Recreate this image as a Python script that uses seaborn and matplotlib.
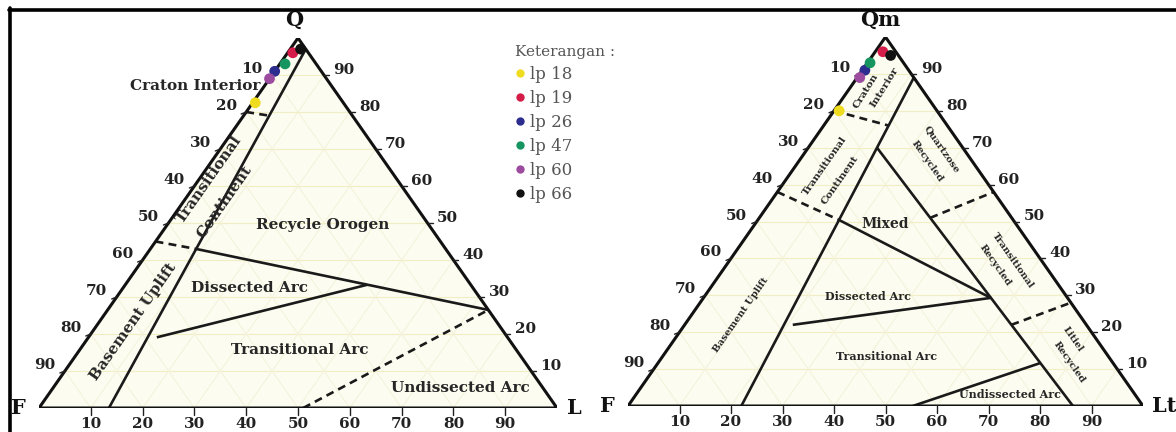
import numpy as np
import pandas as pd
import matplotlib
matplotlib.use("Agg")
import matplotlib.pyplot as plt
from matplotlib.lines import Line2D
from matplotlib.patches import Polygon
import seaborn as sns

sns.set_theme(style="white")
plt.rcParams["font.family"] = ["DejaVu Serif"]

# ---- samples ----
samples = ["lp 18", "lp 19", "lp 26", "lp 47", "lp 60", "lp 66"]
sample_colors = ["#f0dc1e", "#d41c48", "#2c2d8e", "#179560", "#9b4c9f", "#111111"]

# QFL composition (%)
qfl_Q = [82.5, 96.0, 91.0, 93.0, 89.0, 97.0]
qfl_F = [17.0, 3.0, 9.0, 6.0, 11.0, 1.0]
qfl_L = [0.5, 1.0, 0.0, 1.0, 0.0, 2.0]

# QmFLt composition (%)
qmflt_Qm = [80.0, 96.0, 91.0, 93.0, 89.0, 95.0]
qmflt_F = [19.0, 2.5, 8.5, 6.5, 10.5, 1.5]
qmflt_Lt = [1.0, 1.5, 0.5, 0.5, 0.5, 3.5]

tick_values = [10, 20, 30, 40, 50, 60, 70, 80, 90]

# provenance field boundaries, each point as (top, left, right) in %
qfl_solid = [
    [(97, 0, 3), (0, 86.5, 13.5)],
    [(43, 48.2, 8.8), (26.5, 0, 73.5)],
    [(33.3, 20.0, 46.7), (19.1, 67.7, 13.2)],
]
qfl_dashed = [
    [(80, 20, 0), (79, 16.0, 5.0)],
    [(45, 55, 0), (43, 48.2, 8.8)],
    [(0, 49, 51), (26.5, 0, 73.5)],
]
qmflt_solid = [
    [(89, 0, 11), (0, 78, 22)],
    [(70, 16.65, 13.35), (0, 13.6, 86.4)],
    [(50.4, 33.8, 15.8), (29.3, 14.9, 55.8)],
    [(29.3, 14.9, 55.8), (22, 57, 21)],
    [(11.65, 14.1, 74.25), (0, 44.7, 55.3)],
]
qmflt_dashed = [
    [(80, 20, 0), (76, 11.4, 12.6)],
    [(58, 42, 0), (50.4, 33.8, 15.8)],
    [(51, 15.8, 33.2), (58, 0, 42)],
    [(22, 14.56, 63.44), (28, 0, 72)],
]

W, H, DPI = 1176, 432, 100
fig = plt.figure(figsize=(W / DPI, H / DPI), dpi=DPI)
fig.patch.set_facecolor("white")


def tern(top, left, right):
    top, left, right = (np.asarray(v, dtype=float) for v in (top, left, right))
    s = top + left + right
    return right / s + top / s / 2.0, top / s


def make_axes(x0, ybase, width, height):
    ax = fig.add_axes([x0 / W, (H - ybase) / H, width / W, height / H])
    ax.set_xlim(0, 1)
    ax.set_ylim(0, 1)
    ax.axis("off")
    ax.patch.set_alpha(0)
    return ax


def draw_diagram(ax, solid, dashed, top_lbl, left_lbl, right_lbl, top_off):
    tri = np.array([[0, 0], [1, 0], [0.5, 1]])
    ax.add_patch(Polygon(tri, closed=True, facecolor="#fcfcf0", edgecolor="none", zorder=0))
    # faint 10 % grid
    for k in tick_values:
        f = k / 100
        segs = [
            tern([f, f], [1 - f, 0], [0, 1 - f]),
            tern([0, 1 - f], [1 - f, 0], [f, f]),
            tern([0, 1 - f], [f, f], [1 - f, 0]),
        ]
        for i, (xs, ys) in enumerate(segs):
            ax.plot(xs, ys, color="#f1eec6" if i == 0 else "#f5f3dc", lw=0.8, zorder=1)
    for seg in solid:
        xs, ys = tern(*zip(*seg))
        ax.plot(xs, ys, color="#1a1a1a", lw=1.9, solid_capstyle="butt", zorder=3)
    for seg in dashed:
        xs, ys = tern(*zip(*seg))
        ax.plot(xs, ys, color="#1a1a1a", lw=1.9, dashes=(3.0, 2.0), zorder=3)
    ax.add_patch(Polygon(tri, closed=True, facecolor="none", edgecolor="#111111",
                         lw=2.2, joinstyle="miter", zorder=4))
    bb = ax.get_position()
    pw, ph = bb.width * W, bb.height * H
    tick_kw = dict(color="#222222", lw=1.0, clip_on=False, zorder=4)
    lab_kw = dict(textcoords="offset pixels", ha="center", va="center",
                  fontsize=11, fontweight="bold", color="#222222", annotation_clip=False)
    for v in tick_values:
        f = v / 100
        # left edge (left component)
        x, y = tern(1 - f, f, 0)
        ax.plot([x, x - 5 / pw], [y, y - 2 / ph], **tick_kw)
        ax.annotate(str(v), (x, y), xytext=(-20, 6), **lab_kw)
        # right edge (top component)
        x, y = tern(f, 0, 1 - f)
        ax.plot([x, x + 5 / pw], [y, y], **tick_kw)
        ax.annotate(str(v), (x, y), xytext=(20, 5), **lab_kw)
        # base (right component)
        x, y = tern(0, 1 - f, f)
        ax.plot([x, x], [y, y - 7 / ph], **tick_kw)
        ax.annotate(str(v), (x, y), xytext=(0, -16), **lab_kw)
    vk = dict(textcoords="offset pixels", ha="center", va="center", fontsize=15,
              fontweight="bold", color="#111111", annotation_clip=False)
    ax.annotate(top_lbl, (0.5, 1), xytext=top_off, **vk)
    ax.annotate(left_lbl, (0, 0), xytext=(-21, 0), **vk)
    ax.annotate(right_lbl, (1, 0), xytext=(17 if len(right_lbl) == 1 else 21, 0), **vk)


def label(px, py, s, size=11, rot=0, weight="bold", color="#262626"):
    fig.text(px / W, 1 - py / H, s, ha="center", va="center", rotation=rot,
             rotation_mode="anchor", fontsize=size, fontweight=weight, color=color)


palette = dict(zip(samples, sample_colors))

# ---------------- QFL ----------------
ax1 = make_axes(39, 408, 518, 370)
draw_diagram(ax1, qfl_solid, qfl_dashed, "Q", "F", "L", (-4, 18))
x1, y1 = tern(qfl_Q, qfl_F, qfl_L)
df1 = pd.DataFrame({"x": x1, "y": y1, "sample": samples})
sns.scatterplot(data=df1, x="x", y="y", hue="sample", palette=palette, s=60,
                edgecolor="none", legend=False, ax=ax1, zorder=6, clip_on=False)
ax1.set_xlim(0, 1); ax1.set_ylim(0, 1); ax1.axis("off")

label(195, 86, "Craton Interior")
label(209, 179, "Transitional", rot=55)
label(225, 202, "Continent", rot=55)
label(133, 322, "Basement Uplift", rot=55)
label(323, 225, "Recycle Orogen")
label(250, 288, "Dissected Arc")
label(300, 350, "Transitional Arc")
label(460, 388, "Undissected Arc")

# ---------------- QmFLt ----------------
ax2 = make_axes(628, 406, 515, 369)
draw_diagram(ax2, qmflt_solid, qmflt_dashed, "Qm", "F", "Lt", (-5, 17))
x2, y2 = tern(qmflt_Qm, qmflt_F, qmflt_Lt)
df2 = pd.DataFrame({"x": x2, "y": y2, "sample": samples})
sns.scatterplot(data=df2, x="x", y="y", hue="sample", palette=palette, s=60,
                edgecolor="none", legend=False, ax=ax2, zorder=6, clip_on=False)
ax2.set_xlim(0, 1); ax2.set_ylim(0, 1); ax2.axis("off")

label(866, 91, "Craton", size=7.5, rot=58)
label(884, 87, "Interior", size=7.5, rot=58)
label(825, 166, "Transitional", size=7.5, rot=55)
label(840, 180, "Continent", size=7.5, rot=55)
label(741, 315, "Basement Uplift", size=7, rot=55)
label(885, 224, "Mixed", size=10)
label(868, 296, "Dissected Arc", size=8)
label(887, 357, "Transitional Arc", size=8)
label(1010, 395, "Undissected Arc", size=8)
label(942, 150, "Quartzose", size=7, rot=-55)
label(927, 161, "Recycled", size=7, rot=-55)
label(1013, 260, "Transitional", size=7, rot=-55)
label(995, 265, "Recycled", size=7, rot=-55)
label(1073, 339, "Litiel", size=7, rot=-55)
label(1069, 362, "Recycled", size=7, rot=-55)

# ---------------- legend ----------------
handles = [Line2D([], [], ls="none", marker="o", markersize=6, markerfacecolor=c,
                  markeredgecolor="none") for c in sample_colors]
leg = fig.legend(handles, samples, title="Keterangan :", loc="upper left",
                 bbox_to_anchor=(508 / W, 1 - 38 / H), frameon=False,
                 prop={"family": "DejaVu Serif", "size": 12}, labelcolor="#555555",
                 handletextpad=0.3, labelspacing=0.42, handlelength=0.6,
                 borderaxespad=0, alignment="left")
leg.get_title().set_fontsize(11)
leg.get_title().set_color("#555555")

# ---------------- frame ----------------
fig.add_artist(Line2D([10 / W, 10 / W], [0, 1 - 8 / H], transform=fig.transFigure,
                      color="black", lw=2.6))
fig.add_artist(Line2D([8.5 / W, 1], [1 - 9.5 / H, 1 - 9.5 / H], transform=fig.transFigure,
                      color="black", lw=2.6))

fig.savefig("out.png", dpi=DPI, facecolor="white")
